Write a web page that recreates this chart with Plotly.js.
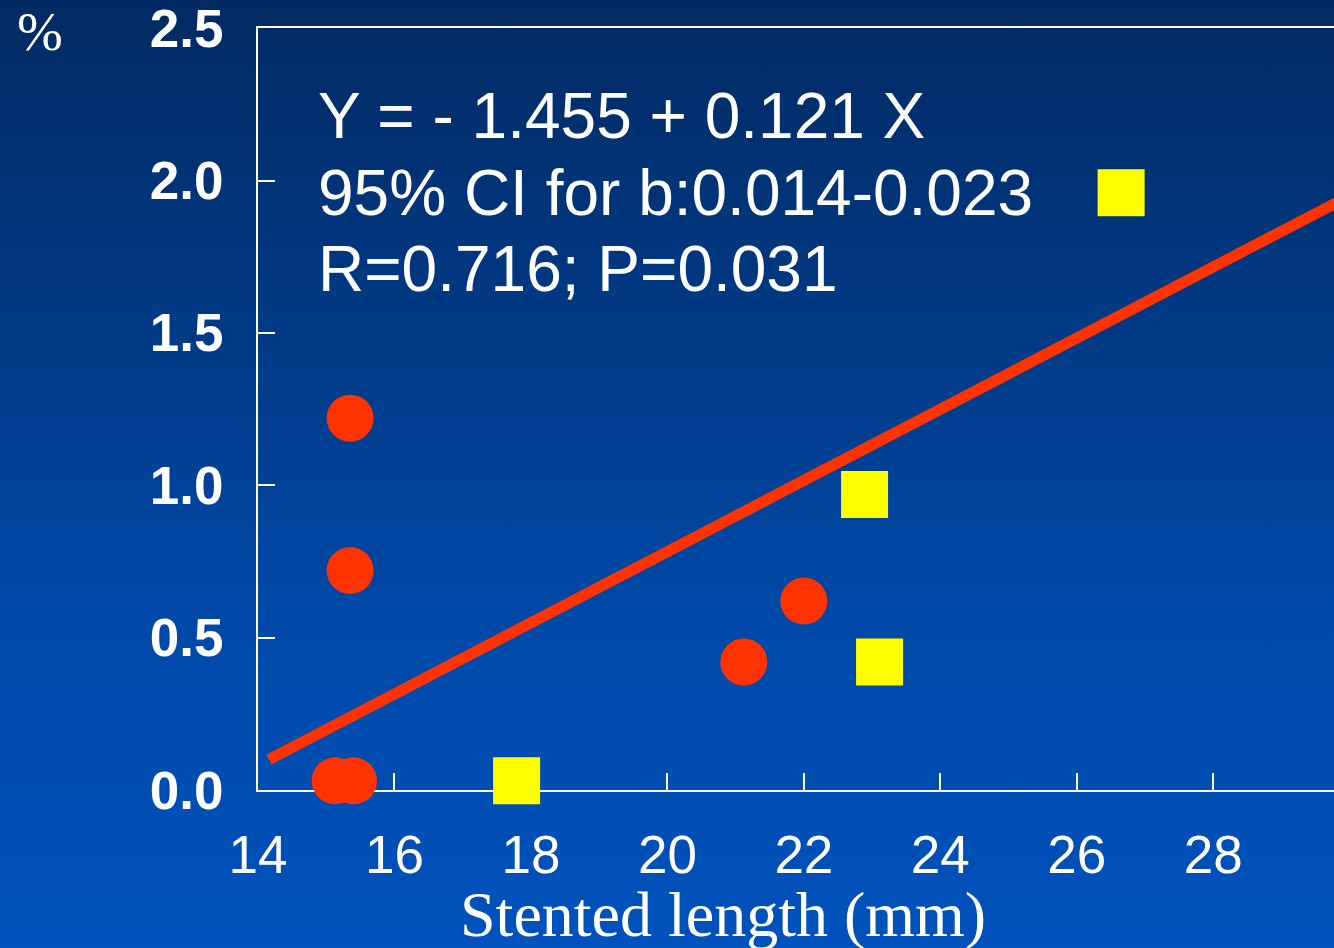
<!DOCTYPE html>
<html>
<head>
<meta charset="utf-8">
<script src="https://cdn.plot.ly/plotly-3.0.1.min.js"></script>
<style>
  html, body { margin: 0; padding: 0; }
  #chart { width: 1334px; height: 948px; background: linear-gradient(to bottom, #022a62 0%, #003a86 35%, #0049a8 65%, #0052bc 100%); }
</style>
</head>
<body>
<div id="chart"></div>
<script>
// Values
const circleX = [15.13, 15.40, 15.35, 15.35, 21.12, 22.00];
const circleY = [0.03, 0.03, 1.22, 0.72, 0.42, 0.62];
const squareX = [17.79, 22.89, 23.11, 26.65];
const squareY = [0.03, 0.97, 0.42, 1.96];
const fitX = [14.16, 30];
const fitY = [0.10, 1.95];
const yTickVals = [0, 0.5, 1.0, 1.5, 2.0, 2.5];
const xTickVals = [14, 16, 18, 20, 22, 24, 26, 28];
const xLabel = 'Stented length (mm)';
const yLabel = '%';
const statLines = ['Y = - 1.455 + 0.121 X', '95% CI for b:0.014-0.023', 'R=0.716; P=0.031'];

const traces = [
  { x: fitX, y: fitY, type: 'scatter', mode: 'lines',
    line: { color: '#ff3300', width: 11 }, hoverinfo: 'skip', showlegend: false },
  { x: circleX, y: circleY, type: 'scatter', mode: 'markers', cliponaxis: false,
    marker: { symbol: 'circle', size: 47, color: '#ff3300', line: { width: 0 } }, showlegend: false },
  { x: squareX, y: squareY, type: 'scatter', mode: 'markers', cliponaxis: false,
    marker: { symbol: 'square', size: 47, color: '#ffff00', line: { width: 0 } }, showlegend: false }
];

const statY = [0.8839, 0.7841, 0.6837];
const annotations = statLines.map((t, i) => ({
  text: t, xref: 'paper', yref: 'paper', x: 0.0539, y: statY[i],
  xanchor: 'left', yanchor: 'middle', showarrow: false,
  font: { family: 'Liberation Sans, Arial, sans-serif', size: 64, color: '#ffffff' }
}));
annotations.push({
  text: yLabel, xref: 'paper', yref: 'paper', x: -0.226, y: 0.996,
  xanchor: 'left', yanchor: 'middle', showarrow: false,
  font: { family: 'Liberation Serif, Times New Roman, serif', size: 55, color: '#ffffff' }
});
annotations.push({
  text: xLabel, xref: 'paper', yref: 'paper', x: 0.4326, y: -0.164,
  xanchor: 'center', yanchor: 'middle', showarrow: false,
  font: { family: 'Liberation Serif, Times New Roman, serif', size: 64, color: '#ffffff' }
});

const layout = {
  width: 1334, height: 948,
  margin: { l: 258, r: 0, t: 28, b: 158, pad: 0 },
  paper_bgcolor: 'rgba(0,0,0,0)',
  plot_bgcolor: 'rgba(0,0,0,0)',
  showlegend: false,
  xaxis: {
    range: [14, 29.77], tickvals: xTickVals, ticktext: xTickVals.map(String),
    showgrid: false, zeroline: false, showline: true, mirror: true,
    linecolor: '#ffffff', linewidth: 2, layer: 'below traces',
    ticks: 'inside', ticklen: 17, tickwidth: 2, tickcolor: '#ffffff',
    ticklabelstandoff: 17,
    tickfont: { family: 'Liberation Sans, Arial, sans-serif', size: 53, color: '#ffffff' }
  },
  yaxis: {
    range: [0, 2.5005], tickvals: yTickVals, ticktext: yTickVals.map(v => v.toFixed(1)),
    showgrid: false, zeroline: false, showline: true,
    linecolor: '#ffffff', linewidth: 2, layer: 'below traces',
    ticks: 'inside', ticklen: 17, tickwidth: 2, tickcolor: '#ffffff',
    ticklabelstandoff: 22, ticklabeloverflow: 'allow',
    tickfont: { family: 'Liberation Sans, Arial, sans-serif', size: 53, color: '#ffffff', weight: 'bold' }
  },
  annotations: annotations
};

Plotly.newPlot('chart', traces, layout, { displayModeBar: false, staticPlot: true });
</script>
</body>
</html>
